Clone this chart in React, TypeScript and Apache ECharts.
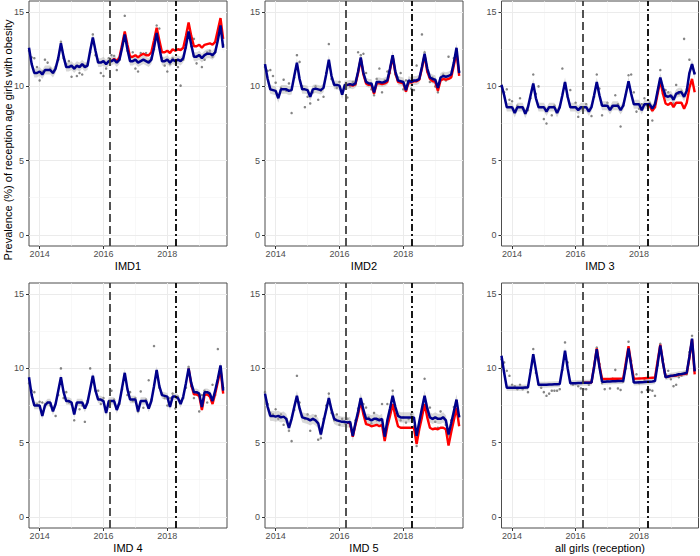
import React, { useEffect, useRef } from 'react';
import * as echarts from 'echarts';

const FONT = '"Liberation Sans", Arial, Helvetica, sans-serif';

// ---------- labels & ticks ----------
const panelTitles = ['IMD1', 'IMD2', 'IMD 3', 'IMD 4', 'IMD 5', 'all girls (reception)'];
const yAxisTitle = 'Prevalence (%) of reception age girls with obesity';
const xMajorTicks = [2014, 2016, 2018];
const xMinorTicks = [2015, 2017, 2019];
const yMajorTicks = [0, 5, 10, 15];
const yMinorTicks = [2.5, 7.5, 12.5];
const xMin = 2013 + 8 / 12; // Sep 2013
const xMax = 2019.87;
const yMin = -0.75;
const yMax = 15.75;
const interventionDates = [2016.21, 2018.27];

// monthly time index: Sep 2013 ... Oct 2019
const monthCount = 74;
const months = Array.from({ length: monthCount }, (_, i) => xMin + i / 12);

// ---------- IMD1 ----------
const imd1Fit = [12.6,
  11.5, 10.9, 10.9, 11.0, 10.8, 11.1, 11.1, 11.1, 10.9, 11.2, 11.9, 12.9,
  12.0, 11.3, 11.3, 11.4, 11.2, 11.4, 11.3, 11.5, 11.3, 11.4, 12.4, 13.3,
  12.4, 11.6, 11.6, 11.7, 11.5, 11.7, 11.7, 11.8, 11.6, 11.8, 12.6, 13.5,
  12.5, 11.7, 11.7, 11.8, 11.6, 11.7, 11.8, 11.7, 11.6, 11.8, 12.6, 13.6,
  12.6, 11.7, 11.7, 11.8, 11.6, 11.8, 11.7, 11.8, 11.7, 11.9, 12.7, 13.7,
  12.8, 12.0, 12.0, 12.1, 11.9, 12.1, 12.2, 12.2, 12.1, 12.3, 13.1, 14.1,
  12.6];
const imd1CounterStart = 31;
const imd1Counter = [11.7, 11.85, 11.7, 11.95, 12.8, 13.7,
  12.8, 12.0, 12.0, 12.1, 11.95, 12.1, 12.2, 12.1, 12.1, 12.3, 13.1, 13.95,
  13.1, 12.3, 12.3, 12.4, 12.25, 12.5, 12.4, 12.5, 12.45, 12.6, 13.4, 14.3,
  13.4, 12.7, 12.7, 12.8, 12.6, 12.8, 12.85, 12.9, 12.8, 13.0, 13.8, 14.6,
  13.2];
const imd1Obs = [12.4,
  11.95, 11.9, 11.3, 10.4, 11.0, 11.8, 11.6, 11.2, 10.9, 11.3, 11.8, 13.0,
  11.9, 11.5, 11.7, 10.65, 11.2, 10.7, 10.9, 10.8, 11.4, 11.5, 12.3, 13.5,
  12.1, 11.7, 10.9, 10.7, 11.2, 11.9, 12.1, 12.05, 11.1, 11.8, 12.7, 14.75,
  12.4, 11.9, 12.3, 11.2, 11.0, 12.25, 12.2, 12.25, 11.7, 11.9, 12.5, 14.1,
  13.9, 11.9, 11.4, 11.0, 11.5, 11.9, 11.7, 11.3, 10.05, 11.8, 12.6, 13.6,
  12.7, 13.2, 11.55, 12.1, 11.3, 11.8, 12.3, 12.4, 12.0, 12.3, 13.4, 14.2,
  12.8];

// ---------- IMD2 ----------
const imd2Fit = [11.5,
  10.5, 9.8, 9.75, 9.7, 9.2, 9.8, 9.8, 9.8, 9.7, 9.75, 10.7, 11.6,
  10.5, 9.8, 9.8, 9.75, 9.3, 9.8, 9.85, 9.8, 9.75, 9.9, 10.8, 11.8,
  10.7, 10.1, 10.1, 10.05, 9.45, 10.1, 10.1, 10.15, 10.1, 10.2, 11.0, 11.95,
  10.9, 10.3, 10.2, 10.2, 9.6, 10.3, 10.3, 10.25, 10.3, 10.4, 11.2, 12.1,
  11.0, 10.4, 10.35, 10.3, 9.75, 10.4, 10.3, 10.4, 10.4, 10.5, 11.3, 12.2,
  11.2, 10.6, 10.5, 10.45, 9.9, 10.6, 10.7, 10.65, 10.7, 10.8, 11.6, 12.6,
  10.9];
const imd2CounterStart = 31;
const imd2Counter = [10.1, 10.12, 10.05, 10.15, 10.9, 11.85,
  10.8, 10.2, 10.1, 10.1, 9.5, 10.2, 10.2, 10.15, 10.2, 10.3, 11.1, 12.0,
  10.9, 10.3, 10.25, 10.2, 9.65, 10.3, 10.25, 10.35, 10.35, 10.45, 11.2, 12.1,
  11.0, 10.5, 10.35, 10.3, 9.7, 10.4, 10.5, 10.45, 10.5, 10.6, 11.4, 12.3,
  10.7];
const imd2Obs = [11.3,
  11.05, 11.1, 10.7, 10.25, 9.4, 9.9, 10.45, 9.7, 10.2, 8.2, 10.6, 12.1,
  11.65, 10.0, 8.6, 9.3, 8.85, 9.6, 10.0, 9.1, 9.7, 9.3, 10.9, 12.85,
  10.5, 10.2, 9.9, 10.3, 9.5, 9.9, 9.25, 10.0, 10.3, 10.1, 12.3, 12.1,
  12.2, 10.9, 10.1, 9.8, 9.4, 10.5, 11.2, 9.6, 10.4, 11.0, 10.9, 12.0,
  10.8, 10.6, 10.9, 9.8, 10.4, 10.2, 9.85, 9.75, 11.4, 10.5, 13.5, 12.3,
  11.0, 10.3, 10.6, 10.0, 9.6, 10.5, 10.8, 10.4, 12.0, 10.7, 11.9, 12.4,
  11.0];

// ---------- IMD 3 ----------
const imd3Fit = [10.1,
  9.4, 8.6, 8.6, 8.6, 8.2, 8.6, 8.6, 8.6, 8.15, 8.6, 9.4, 10.2,
  9.2, 8.6, 8.6, 8.6, 8.3, 8.6, 8.6, 8.6, 8.2, 8.6, 9.4, 10.3,
  9.3, 8.6, 8.6, 8.6, 8.4, 8.6, 8.6, 8.6, 8.3, 8.6, 9.4, 10.3,
  9.4, 8.7, 8.7, 8.7, 8.4, 8.7, 8.7, 8.7, 8.4, 8.7, 9.5, 10.35,
  9.5, 8.8, 8.8, 8.8, 8.4, 8.8, 8.8, 8.8, 8.5, 8.8, 9.7, 10.6,
  9.9, 9.35, 9.3, 9.4, 9.1, 9.5, 9.6, 9.6, 9.3, 9.7, 10.9, 11.5,
  10.8];
const imd3CounterStart = 55;
const imd3Counter = [8.8, 8.7, 8.35, 8.6, 9.5, 10.4,
  9.5, 8.85, 8.75, 8.9, 8.6, 8.9, 8.9, 8.9, 8.5, 8.9, 9.9, 10.5,
  9.6];
const imd3Obs = [10.0,
  9.6, 9.8, 9.1, 9.0, 8.3, 8.7, 9.2, 8.5, 8.2, 8.4, 9.2, 10.8,
  9.5, 10.0, 8.6, 7.8, 7.5, 8.6, 8.05, 8.7, 8.3, 8.6, 11.2, 10.2,
  9.3, 9.75, 8.6, 8.9, 7.95, 8.5, 8.6, 8.8, 8.4, 8.0, 9.3, 10.8,
  9.85, 8.05, 8.7, 8.9, 8.5, 8.6, 9.4, 8.8, 7.3, 8.7, 9.5, 10.75,
  10.8, 9.6, 8.3, 8.5, 8.8, 9.2, 8.7, 8.9, 7.7, 8.6, 9.6, 11.1,
  9.5, 9.75, 9.6, 9.3, 8.85, 10.1, 9.5, 9.7, 13.2, 9.8, 11.8, 11.4,
  10.9];

// ---------- IMD 4 ----------
const imd4Fit = [9.4,
  8.2, 7.5, 7.5, 7.5, 6.8, 7.5, 7.7, 7.7, 7.1, 7.6, 8.5, 9.4,
  8.4, 7.8, 7.8, 7.7, 6.9, 7.7, 7.7, 7.7, 7.3, 7.7, 8.6, 9.5,
  8.5, 7.9, 7.9, 7.8, 7.0, 7.8, 7.8, 7.8, 7.2, 7.7, 8.7, 9.7,
  8.6, 7.9, 7.9, 7.9, 7.1, 7.8, 7.8, 7.8, 7.3, 7.8, 8.8, 9.9,
  8.8, 8.2, 8.15, 8.1, 7.4, 8.1, 8.1, 8.0, 7.6, 8.1, 9.0, 10.0,
  9.0, 8.4, 8.4, 8.3, 7.4, 8.4, 8.4, 8.3, 7.8, 8.5, 9.3, 10.2,
  8.5];
const imd4CounterStart = 60;
const imd4Counter = [10.0,
  8.9, 8.25, 8.25, 8.15, 7.2, 8.2, 8.25, 8.1, 7.6, 8.3, 9.1, 9.95,
  8.3];
const imd4Obs = [9.0,
  8.5, 8.4, 7.6, 7.75, 7.7, 7.6, 7.7, 7.5, 7.3, 6.8, 8.2, 10.0,
  8.0, 8.4, 7.7, 7.6, 6.5, 7.6, 7.25, 7.5, 6.4, 7.8, 10.0, 9.4,
  8.5, 8.5, 7.6, 8.0, 7.3, 7.5, 8.5, 7.9, 7.3, 7.6, 8.6, 9.5,
  8.2, 8.4, 7.8, 8.0, 7.1, 8.45, 7.35, 7.9, 9.2, 7.9, 11.5, 9.8,
  8.7, 8.3, 8.0, 7.5, 8.0, 8.3, 7.3, 8.1, 7.8, 8.0, 8.7, 10.1,
  8.8, 8.0, 8.3, 7.1, 8.2, 8.5, 7.7, 8.1, 8.9, 8.2, 11.3, 10.1,
  8.7];

// ---------- IMD 5 ----------
const imd5Fit = [8.3,
  7.4, 6.8, 6.8, 6.75, 6.8, 6.7, 6.75, 6.6, 6.0, 6.6, 7.4, 8.15,
  7.3, 6.7, 6.65, 6.6, 6.5, 6.6, 6.5, 6.3, 5.55, 6.4, 7.2, 8.0,
  7.2, 6.6, 6.5, 6.45, 6.4, 6.4, 6.35, 6.4, 5.45, 6.3, 7.1, 8.0,
  7.2, 6.6, 6.6, 6.5, 6.6, 6.6, 6.5, 6.6, 5.4, 6.5, 7.3, 8.15,
  7.4, 6.8, 6.7, 6.7, 6.7, 6.7, 6.7, 6.7, 5.45, 6.4, 7.3, 8.15,
  7.3, 6.7, 6.6, 6.7, 6.6, 6.6, 6.7, 6.5, 5.55, 6.3, 7.1, 7.9,
  6.7];
const imd5CounterStart = 31;
const imd5Counter = [6.35, 6.3, 5.4, 6.2, 6.9, 7.8,
  6.9, 6.25, 6.2, 6.1, 6.15, 6.2, 6.1, 6.2, 5.1, 6.1, 6.8, 7.6,
  6.8, 6.1, 6.0, 6.0, 6.0, 6.0, 6.0, 6.0, 4.9, 5.9, 6.7, 7.6,
  6.7, 6.0, 5.9, 5.95, 5.9, 6.0, 6.0, 5.9, 4.8, 5.7, 6.5, 7.35,
  6.1];
const imd5Obs = [8.4,
  7.6, 7.0, 6.9, 7.25, 6.6, 6.9, 6.2, 6.6, 5.8, 5.1, 7.2, 9.5,
  7.7, 6.8, 6.6, 6.9, 5.8, 6.6, 6.8, 5.2, 5.3, 6.6, 7.5, 8.3,
  7.0, 6.5, 6.9, 6.2, 6.6, 6.3, 6.6, 6.1, 5.7, 6.5, 7.3, 7.9,
  7.6, 7.36, 6.7, 6.3, 7.0, 6.5, 6.6, 7.6, 5.5, 7.6, 7.0, 8.5,
  7.3, 6.9, 6.5, 6.7, 6.35, 6.6, 6.9, 6.1, 4.77, 6.2, 7.0, 9.3,
  7.1, 7.36, 6.6, 6.4, 6.0, 7.1, 6.7, 6.2, 5.5, 6.5, 7.4, 7.8,
  6.8];

// ---------- all girls (reception) ----------
const allFit = [10.85,
  9.7, 8.7, 8.7, 8.7, 8.7, 8.7, 8.7, 8.7, 8.72, 8.72, 9.8, 10.95,
  9.9, 8.9, 8.9, 8.9, 8.9, 8.92, 8.92, 8.93, 8.93, 8.95, 10.0, 11.2,
  10.0, 9.0, 9.0, 9.0, 9.02, 9.02, 9.03, 9.03, 9.04, 9.05, 10.1, 11.3,
  10.1, 9.1, 9.1, 9.12, 9.12, 9.13, 9.13, 9.15, 9.15, 9.15, 10.2, 11.35,
  10.2, 9.05, 9.05, 9.06, 9.07, 9.08, 9.1, 9.1, 9.12, 9.15, 10.3, 11.55,
  10.4, 9.4, 9.45, 9.5, 9.52, 9.55, 9.6, 9.62, 9.65, 9.7, 10.8, 12.0,
  9.8];
const allCounterStart = 31;
const allCounter = [9.03, 9.03, 9.04, 9.05, 10.15, 11.35,
  10.2, 9.28, 9.28, 9.29, 9.29, 9.3, 9.3, 9.3, 9.31, 9.32, 10.4, 11.5,
  10.3, 9.3, 9.31, 9.32, 9.33, 9.34, 9.35, 9.36, 9.37, 9.38, 10.5, 11.6,
  10.4, 9.42, 9.45, 9.48, 9.5, 9.52, 9.56, 9.6, 9.62, 9.65, 10.7, 11.95,
  9.6];
const allObs = [10.6,
  10.4, 9.84, 9.5, 8.9, 8.8, 8.6, 8.9, 8.6, 8.7, 8.4, 9.9, 11.3,
  9.7, 8.9, 8.7, 8.4, 8.15, 8.3, 8.5, 8.5, 8.5, 8.6, 9.9, 11.75,
  10.4, 9.1, 8.9, 9.0, 8.8, 8.65, 8.6, 8.6, 8.9, 9.1, 10.0, 11.4,
  10.3, 9.0, 8.6, 9.2, 8.65, 9.3, 9.9, 8.65, 8.55, 9.1, 10.0, 11.8,
  10.5, 9.1, 9.6, 9.0, 8.4, 9.2, 8.55, 8.55, 8.5, 8.15, 10.2, 11.65,
  10.6, 9.6, 9.84, 9.27, 8.8, 8.9, 9.4, 9.5, 9.7, 9.6, 11.1, 12.2,
  9.9];

// confidence band half-width per panel
const bandHalfWidth = [0.3, 0.3, 0.3, 0.25, 0.35, 0.2];

// ---------- layout (styling, not data) ----------
const colLeft = [29, 265, 501.5];
const colWidth = [198, 198, 197];
const rowTop = [1, 283];
const rowHeight = 245;

const panels = [
  { fit: imd1Fit, counter: imd1Counter, start: imd1CounterStart, obs: imd1Obs },
  { fit: imd2Fit, counter: imd2Counter, start: imd2CounterStart, obs: imd2Obs },
  { fit: imd3Fit, counter: imd3Counter, start: imd3CounterStart, obs: imd3Obs },
  { fit: imd4Fit, counter: imd4Counter, start: imd4CounterStart, obs: imd4Obs },
  { fit: imd5Fit, counter: imd5Counter, start: imd5CounterStart, obs: imd5Obs },
  { fit: allFit, counter: allCounter, start: allCounterStart, obs: allObs },
];

function buildOption() {
  const grid: any[] = [];
  const xAxis: any[] = [];
  const yAxis: any[] = [];
  const series: any[] = [];

  panels.forEach((pd, p) => {
    const col = p % 3;
    const row = Math.floor(p / 3);
    grid.push({
      left: colLeft[col], top: rowTop[row], width: colWidth[col], height: rowHeight,
      show: true, borderColor: '#4d4d4d', borderWidth: 1, backgroundColor: 'rgba(0,0,0,0)',
    });
    xAxis.push({
      gridIndex: p, type: 'value', min: xMin, max: xMax,
      axisLine: { show: false, onZero: false },
      splitLine: { show: false },
      axisTick: { show: true, length: 3, lineStyle: { color: '#333', width: 1 }, customValues: xMajorTicks },
      axisLabel: {
        show: true, customValues: xMajorTicks, color: '#4D4D4D', fontSize: 9, margin: 3, fontFamily: FONT,
        formatter: (v: number) => String(Math.round(v)),
      },
      name: panelTitles[p], nameLocation: 'middle', nameGap: 14.5,
      nameTextStyle: { color: '#000', fontSize: 11, fontFamily: FONT },
    });
    yAxis.push({
      gridIndex: p, type: 'value', min: yMin, max: yMax,
      axisLine: { show: false, onZero: false },
      splitLine: { show: false },
      axisTick: { show: true, length: 3, lineStyle: { color: '#333', width: 1 }, customValues: yMajorTicks },
      axisLabel: {
        show: true, customValues: yMajorTicks, color: '#4D4D4D', fontSize: 9, margin: 5, fontFamily: FONT,
        formatter: (v: number) => String(v),
      },
    });

    const major = { color: '#EBEBEB', width: 1, type: 'solid' };
    const minor = { color: '#F3F3F3', width: 0.6, type: 'solid' };
    const gridLines = [
      ...xMajorTicks.map((v) => ({ xAxis: v, lineStyle: major })),
      ...xMinorTicks.map((v) => ({ xAxis: v, lineStyle: minor })),
      ...yMajorTicks.map((v) => ({ yAxis: v, lineStyle: major })),
      ...yMinorTicks.map((v) => ({ yAxis: v, lineStyle: minor })),
    ];

    // observed points (carry the panel grid lines)
    series.push({
      type: 'scatter', xAxisIndex: p, yAxisIndex: p, silent: true, z: 2,
      symbol: 'circle', symbolSize: 2.5,
      itemStyle: { color: '#666666' },
      data: months.map((m, i) => [m, pd.obs[i]]),
      markLine: {
        z: 1, silent: true, symbol: ['none', 'none'], label: { show: false },
        lineStyle: { type: 'solid' }, emphasis: { disabled: true },
        data: gridLines,
      },
    });

    // confidence band around the fitted line
    const w = bandHalfWidth[p];
    series.push({
      type: 'custom', xAxisIndex: p, yAxisIndex: p, silent: true, z: 3,
      data: [[months[0], pd.fit[0]]],
      renderItem: (_params: any, api: any) => {
        const upper = pd.fit.map((v, i) => api.coord([months[i], v + w]));
        const lower = pd.fit.map((v, i) => api.coord([months[i], v - w])).reverse();
        return {
          type: 'polygon',
          shape: { points: upper.concat(lower) },
          style: { fill: '#a9a9a9', opacity: 0.45 },
        };
      },
    });

    // counterfactual (red)
    series.push({
      type: 'line', xAxisIndex: p, yAxisIndex: p, silent: true, z: 4,
      showSymbol: false, symbol: 'none',
      lineStyle: { color: '#FF0000', width: 2.4 },
      data: pd.counter.map((v, k) => [months[pd.start + k], v]),
    });

    // fitted (navy) + intervention lines
    series.push({
      type: 'line', xAxisIndex: p, yAxisIndex: p, silent: true, z: 5,
      showSymbol: false, symbol: 'none',
      lineStyle: { color: '#00008B', width: 2.5 },
      data: pd.fit.map((v, i) => [months[i], v]),
      markLine: {
        z: 6, silent: true, symbol: ['none', 'none'], label: { show: false },
        emphasis: { disabled: true },
        data: [
          { xAxis: interventionDates[0], lineStyle: { type: [8, 4], color: '#404040', width: 1.8 } },
          { xAxis: interventionDates[1], lineStyle: { type: [7, 3, 2, 3], color: '#000000', width: 1.8 } },
        ],
      },
    });
  });

  return {
    animation: false,
    textStyle: { fontFamily: FONT },
    grid, xAxis, yAxis, series,
    graphic: [
      {
        type: 'text', x: 8, y: 140, rotation: Math.PI / 2, silent: true,
        style: {
          text: yAxisTitle, fill: '#000', fontSize: 11, fontFamily: FONT,
          align: 'center', verticalAlign: 'middle',
          textAlign: 'center', textVerticalAlign: 'middle',
        },
      },
    ],
  };
}

export default function App() {
  const ref = useRef<HTMLDivElement>(null);
  useEffect(() => {
    if (!ref.current) return;
    const chart = echarts.init(ref.current, null, { renderer: 'svg' });
    chart.setOption(buildOption() as any);
    return () => chart.dispose();
  }, []);
  return (
    <div
      ref={ref}
      style={{ position: 'absolute', left: 0, top: 0, width: 700, height: 556, background: '#fff' }}
    />
  );
}
